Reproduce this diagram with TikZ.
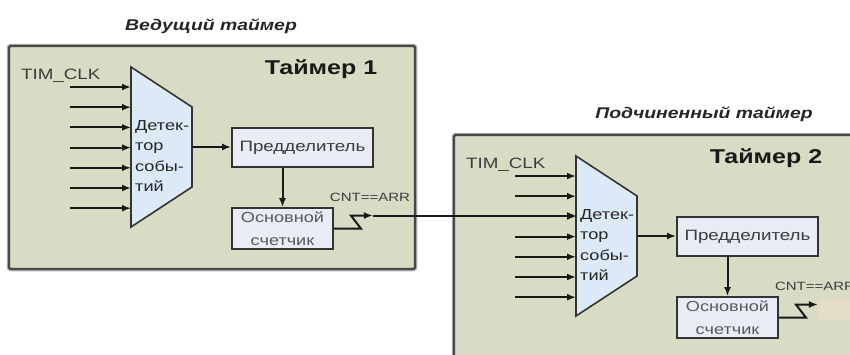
\documentclass[tikz,border=0pt]{standalone}
\usepackage{fontspec}
\usetikzlibrary{arrows.meta}
\newfontfamily\labfont{Liberation Sans}[FakeStretch=1.25]
\definecolor{boxfill}{RGB}{216,220,196}
\definecolor{boxline}{RGB}{72,72,72}
\definecolor{detfill}{RGB}{220,234,247}
\definecolor{blkfill}{RGB}{232,236,247}
\definecolor{patchfill}{RGB}{227,221,198}
\definecolor{txtgray}{RGB}{60,60,60}
\tikzset{
  timerbox/.style={fill=boxfill,draw=boxline,line width=2.2pt,rounded corners=1.5pt},
  timerhalo/.style={draw=black!30,line width=4.5pt,rounded corners=2pt},
  detshape/.style={fill=detfill,draw=black!80,line width=1.6pt,line join=miter},
  blk/.style={fill=blkfill,draw=black!80,line width=1.8pt,inner sep=0pt,font=\labfont\fontsize{15}{18}\selectfont,text=txtgray},
  conn/.style={draw=black!90,line width=2pt},
  arr/.style={conn,-{Latex[length=9pt,width=7pt]}},
  lbl/.style={font=\labfont\fontsize{15}{18}\selectfont,text=txtgray,inner sep=0pt},
  detlbl/.style={font=\labfont\fontsize{14.5}{20.5}\selectfont,text=black!85,inner sep=0pt,align=left},
  smalllbl/.style={font=\labfont\fontsize{12}{14}\selectfont,text=txtgray,inner sep=0pt},
  timertitle/.style={font=\labfont\bfseries\fontsize{20}{24}\selectfont,text=black!90,inner sep=0pt},
  headlbl/.style={font=\labfont\bfseries\itshape\fontsize{15.5}{18}\selectfont,text=black!85,inner sep=0pt}
}
\newcommand\drawtimer[3]{%
\begin{scope}[shift={#3}]
  \draw[timerhalo] (9,46) rectangle (415,269);
  \path[timerbox] (9,46) rectangle (415,269);
  \node[timertitle] (title#1) at (321,69) {Таймер #2};
  \node[lbl,anchor=west] (clk#1) at (21,76) {TIM\_CLK};
  \draw[detshape] (131,67) -- (192,107) -- (192,187) -- (131,227) -- cycle;
  \node[detlbl,anchor=west] (det#1) at (135,156) {Детек-\\тор\\собы-\\тий};
  \foreach \k in {0,...,6} {
    \coordinate (a#1\k) at (70,87+20.2*\k);
    \coordinate (b#1\k) at (131,87+20.2*\k);
    \draw[arr] (a#1\k) -- (b#1\k);
  }
  \coordinate (o#1) at (192,147);
  \node[blk,minimum width=141pt,minimum height=39pt] (pre#1) at (302.5,147.5) {Предделитель};
  \node[blk,minimum width=101pt,minimum height=41pt,align=center,font=\labfont\fontsize{14.5}{23}\selectfont,text=black!65] (cnt#1) at (282.5,228.5) {Основной\\счетчик};
  \draw[arr] (o#1) -- (o#1 -| pre#1.west);
  \draw[arr] (pre#1.south -| cnt#1.north) -- (cnt#1.north);
  \node[smalllbl] (cmp#1) at (370,197) {CNT==ARR};
  \draw[arr,line join=miter] (cnt#1.east) -- ++(27,0) -- ++(-10,-13) coordinate (z#1) -- ++(22,0) coordinate (zo#1);
\end{scope}}
\begin{document}
\begin{tikzpicture}[x=1pt,y=-1pt]
\useasboundingbox (0,0) rectangle (850,354);
\fill[white] (0,0) rectangle (850,354);
\clip (0,0) rectangle (850,354);
\node[headlbl] (head1) at (211,26) {Ведущий таймер};
\node[headlbl] (head2) at (704,114) {Подчиненный таймер};
\drawtimer{A}{1}{(0,0)}
\drawtimer{B}{2}{(445,89)}
\fill[patchfill] (818,298) rectangle (850,319);
\draw[arr] (zoA) -- (zoA -| bB2);
\end{tikzpicture}
\end{document}
